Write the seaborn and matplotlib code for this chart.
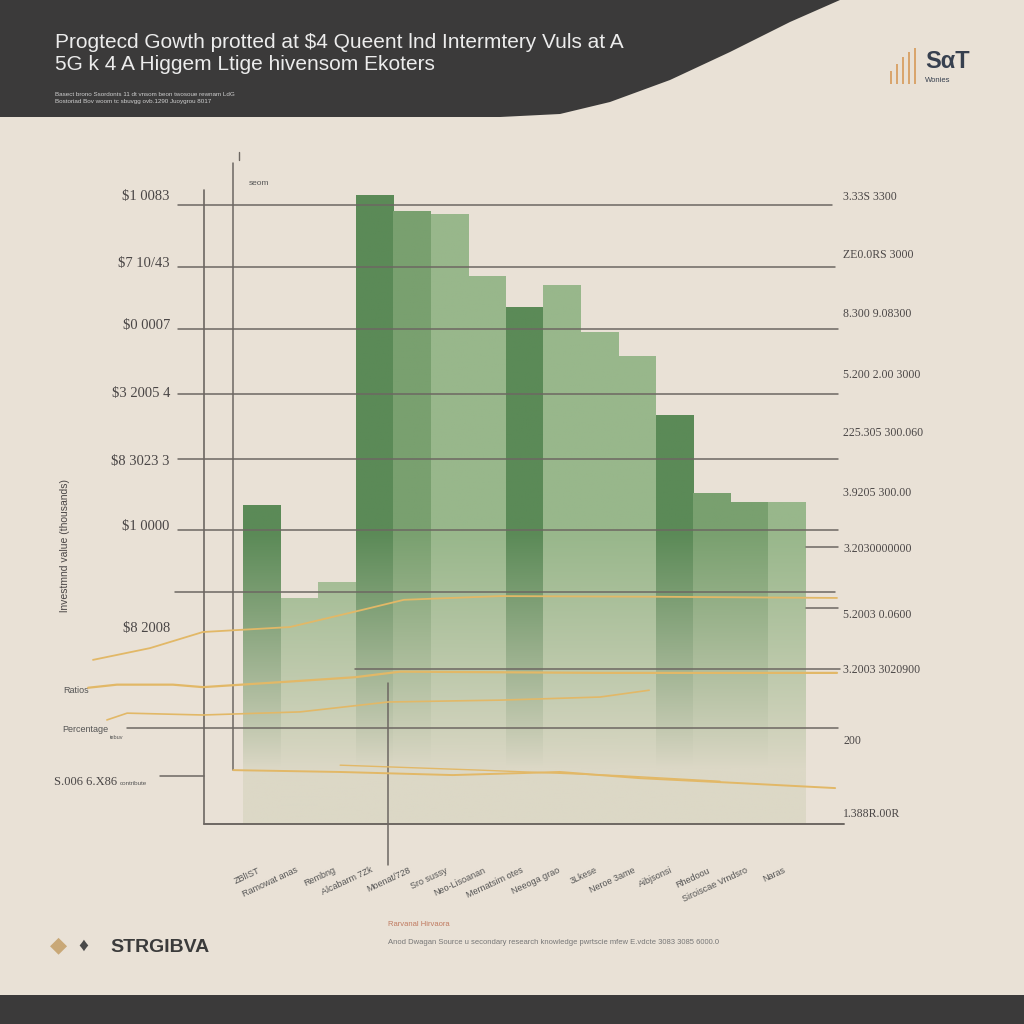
import numpy as np
import matplotlib
matplotlib.use("Agg")
import matplotlib.pyplot as plt
from matplotlib.patches import Polygon, Rectangle
from matplotlib.colors import to_rgb
import seaborn as sns

# ── Data ───────────────────────────────────────────────────────────
categories = ["ZBlIST", "Ramowat anas", "Rembng", "Alcabarm 7Zk", "Moenat/728",
              "Sro sussy", "Neo-Lisoanan", "Mernatsim otes", "Neeoga grao",
              "3Lkese", "Neroe 3ame", "Aibjsonsi", "Rhedoou",
              "Siroiscae Vrndsro", "Naras"]
values = [515, 365, 390, 1015, 990, 985, 885, 835, 870, 795, 755, 660, 535, 520, 520]
shade = ["dark", "light", "light", "dark", "mid", "light", "light", "dark",
         "light", "light", "light", "dark", "mid", "mid", "light"]

grid_values = [1000, 900, 800, 695, 590, 475, 375, 250, 155, 78, 447, 348]
grid_from = [-2.23, -2.23, -2.23, -2.23, -2.23, -2.23, -2.31, 2.49, -3.59, -2.71, 14.51, 14.51]
grid_to = [15.21, 15.29, 15.37, 15.37, 15.37, 15.37, 15.29, 15.42, 15.37, -1.54, 15.37, 15.37]

left_labels = ["$1 0083", "$7 10/43", "$0 0007", "$3 2005 4", "$8 3023 3",
               "$1 0000", "$8 2008"]
left_values = [1013, 905, 805, 695, 585, 480, 315]
right_labels = ["3.33S 3300", "ZE0.0RS 3000", "8.300 9.08300", "5.200 2.00 3000",
                "225.305 300.060", "3.9205 300.00", "3.2030000000", "5.2003 0.0600",
                "3.2003 3020900", "200", "1.388R.00R"]
right_values = [1013, 918, 824, 725, 632, 535, 444, 338, 249, 134, 16]

# gold trend lines (x in category units, y in $k)
line_a_x = [-4.50, -2.98, -1.57, 0.75, 2.70, 3.79, 6.35, 10.35, 15.34]
line_a_y = [265, 284, 310, 318, 346, 362, 368, 367, 365]
line_b_x = [-4.63, -3.86, -2.37, -1.57, 0.49, 2.49, 3.69, 9.02, 15.34]
line_b_y = [220, 225, 225, 221, 229, 237, 246, 244, 244]
line_c_x = [-4.13, -3.59, -1.57, 1.02, 3.37, 6.35, 9.02, 10.33]
line_c_y = [168, 179, 176, 181, 197, 200, 205, 216]
line_d_x = [-0.76, 2.09, 5.09, 7.95, 10.09, 12.75, 15.29]
line_d_y = [87, 84, 79, 84, 74, 66, 58]
line_e_x = [2.09, 5.82, 9.55, 12.22]
line_e_y = [95, 87, 78, 69]

logo_bars = [0.35, 0.55, 0.75, 0.9, 1.0]

BG = "#e9e1d6"
DARK = "#3b3a3a"
GOLD = "#e2b867"
GRID = "#6d6762"
GREENS = {"dark": "#5b8a57", "mid": "#79a06f", "light": "#98b78b"}
FADE = "#dcd8c6"

sns.set_theme(style="white")
plt.rcParams["font.family"] = ["Liberation Sans", "DejaVu Sans"]

fig = plt.figure(figsize=(10.24, 10.24), dpi=100, facecolor=BG)

# ── Header / footer bands ──────────────────────────────────────────
curve = [(0, 0), (840, 0), (790, 22), (730, 52), (670, 80), (610, 102),
         (560, 114), (500, 117), (0, 117)]
fig.patches.append(Polygon([(px / 1024, 1 - py / 1024) for px, py in curve],
                           closed=True, transform=fig.transFigure,
                           facecolor=DARK, edgecolor="none", zorder=0))
fig.patches.append(Rectangle((0, 0), 1, 29 / 1024, transform=fig.transFigure,
                             facecolor=DARK, edgecolor="none", zorder=0))

fig.text(55 / 1024, 1 - 42 / 1024,
         "Progtecd Gowth protted at $4 Queent lnd Intermtery Vuls at A",
         color="#ececec", fontsize=15, va="center")
fig.text(55 / 1024, 1 - 65 / 1024, "5G k 4 A Higgem Ltige hivensom Ekoters",
         color="#ececec", fontsize=15, va="center")
fig.text(55 / 1024, 1 - 95 / 1024,
         "Basect brono Ssordonts 11 dt vnsom beon twosoue rewnam LdG",
         color="#cfcfcf", fontsize=4.5, va="center")
fig.text(55 / 1024, 1 - 102 / 1024,
         "Bostoriad Bov woom tc sbuvgg ovb.1290 Juoygrou 8017",
         color="#cfcfcf", fontsize=4.5, va="center")

# top-right logo
lax = fig.add_axes([888 / 1024, 1 - 84 / 1024, 30 / 1024, 36 / 1024])
lax.bar(range(len(logo_bars)), logo_bars, width=0.45, color="#d9a56d",
        edgecolor="none")
lax.set_xlim(-0.5, len(logo_bars) - 0.5)
lax.set_ylim(0, 1)
lax.axis("off")
fig.text(925 / 1024, 1 - 62 / 1024, "SαT", color="#37404f", fontsize=17,
         fontweight="bold", va="center")
fig.text(925 / 1024, 1 - 81 / 1024, "Wonies", color="#37404f", fontsize=5.5,
         va="center")

# ── Main chart ─────────────────────────────────────────────────────
ax = fig.add_axes([90 / 1024, 1 - 824 / 1024, 750 / 1024, 654 / 1024])
ax.set_facecolor("none")

palette = {c: GREENS[s] for c, s in zip(categories, shade)}
sns.barplot(x=categories, y=values, hue=categories, palette=palette,
            width=1.0, legend=False, ax=ax, zorder=2)

XL = (-4.58, 15.42)
YL = (0, 1056)

# pale band behind the faded bar bottoms
ax.add_patch(Rectangle((-0.5, 0), 14.7, 230, facecolor="#e0dccd",
                       edgecolor="none", zorder=1))

# vertical fade on every bar
for patch, s in zip(ax.patches[:len(values)], shade):
    x0, w, h = patch.get_x(), patch.get_width(), patch.get_height()
    top = np.array(to_rgb(GREENS[s]))
    bot = np.array(to_rgb(FADE))
    v = np.linspace(h, 0, 256)
    t = np.clip((v - 90) / 380, 0, 1) ** 0.9
    rgb = bot[None, :] * (1 - t[:, None]) + top[None, :] * t[:, None]
    img = rgb[:, None, :]
    im = ax.imshow(img, extent=[x0, x0 + w, 0, h], aspect="auto",
                   origin="upper", zorder=2)
    im.set_clip_path(patch)
    patch.set_facecolor("none")
    patch.set_edgecolor("none")

# grid lines
for gv, g0, g1 in zip(grid_values, grid_from, grid_to):
    ax.plot([g0, g1], [gv, gv], color=GRID, lw=1.1, zorder=3, clip_on=False)
ax.plot([-1.54, 15.52], [0, 0], color=GRID, lw=1.4, zorder=3, clip_on=False)
ax.plot([-1.54, -1.54], [0, 1024], color=GRID, lw=1.2, zorder=3, clip_on=False)
ax.plot([-0.76, -0.76], [87, 1068], color=GRID, lw=1.1, zorder=3, clip_on=False)
ax.plot([3.37, 3.37], [-66, 228], color=GRID, lw=1.1, zorder=3, clip_on=False)
ax.plot([-0.6, -0.6], [1072, 1085], color=GRID, lw=1.0, clip_on=False)

# gold lines
for lx, ly, lw in [(line_a_x, line_a_y, 1.3), (line_b_x, line_b_y, 1.6),
                   (line_c_x, line_c_y, 1.2), (line_d_x, line_d_y, 1.4),
                   (line_e_x, line_e_y, 1.0)]:
    ax.plot(lx, ly, color=GOLD, lw=lw, zorder=4, clip_on=False)

# axis labels along the gridlines
serif = ["Liberation Serif", "DejaVu Serif"]
for lab, lv in zip(left_labels, left_values):
    ax.text(-2.45, lv, lab, ha="right", va="center", fontsize=10.5,
            color="#4a4646", family=serif)
ax.text(-4.6, 216, "Ratios", ha="right", va="center", fontsize=6.5, color="#555")
ax.text(-4.1, 153, "Percentage", ha="right", va="center", fontsize=6.5,
        color="#555")
ax.text(-4.05, 140, "tebuv", ha="left", va="center", fontsize=4, color="#555")
ax.text(-3.85, 68, "S.006 6.X86", ha="right", va="center", fontsize=9,
        color="#4a4646", family=serif)
ax.text(-3.78, 66, "contribute", ha="left", va="center", fontsize=4.5,
        color="#555")
for lab, lv in zip(right_labels, right_values):
    ax.text(15.5, lv, lab, ha="left", va="center", fontsize=8.5,
            color="#4a4646", family=serif)
ax.text(-0.35, 1035, "seom", fontsize=6, color="#555", va="center")
ax.text(-5.25, 450, "lnvestmnd value (thousands)", rotation=90, ha="center",
        va="center", fontsize=7.5, color="#4a4646")

ax.set_xlim(*XL)
ax.set_ylim(*YL)
ax.set_xticks(range(len(categories)))
ax.set_xticklabels(categories, rotation=25, ha="right", fontsize=6.5,
                   color="#555")
ax.tick_params(axis="x", length=0, pad=30)
ax.set_yticks([])
ax.set_xlabel("")
ax.set_ylabel("")
sns.despine(ax=ax, left=True, bottom=True)

# ── Footer ─────────────────────────────────────────────────────────
fig.text(50 / 1024, 1 - 946 / 1024, "◆", color="#c9a877", fontsize=16,
         va="center")
fig.text(78 / 1024, 1 - 946 / 1024, "♦", color="#4a4a4a", fontsize=14,
         va="center")
fig.text(110 / 1024, 1 - 947 / 1024, "STRGIBVA", color="#3b3b3b",
         fontsize=14, fontweight="bold", va="center")
fig.text(388 / 1024, 1 - 925 / 1024, "Rarvanal Hirvaora", color="#c07a60",
         fontsize=5.5, va="center")
fig.text(388 / 1024, 1 - 943 / 1024,
         "Anod Dwagan Source u secondary research knowledge pwrtscie mfew "
         "E.vdcte 3083 3085 6000.0", color="#777", fontsize=5.5, va="center")

fig.savefig("out.png", dpi=100, facecolor=BG)
